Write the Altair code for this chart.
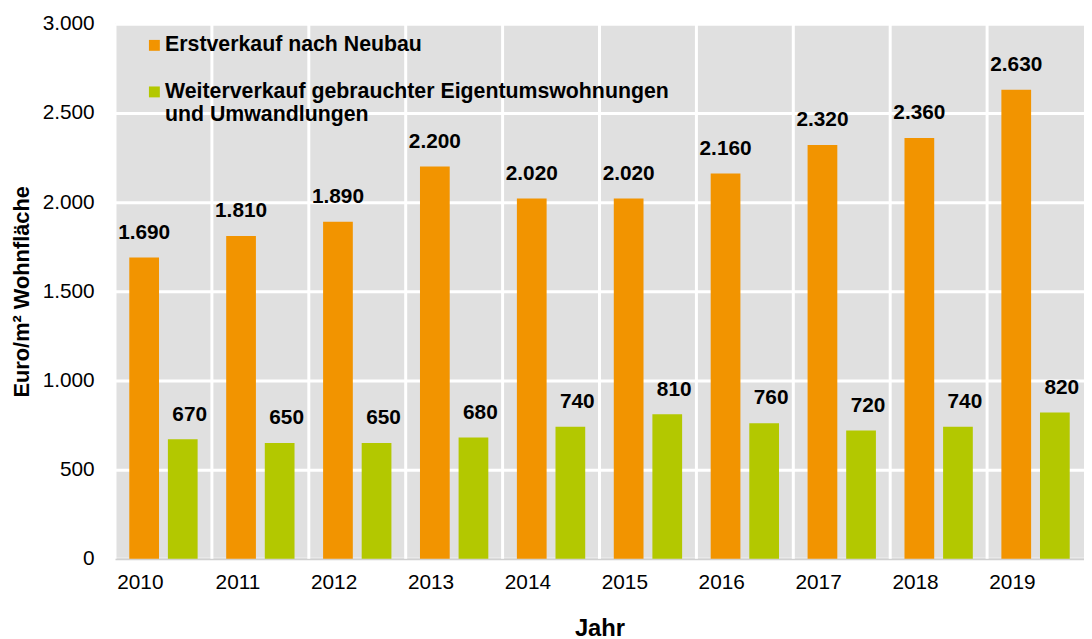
import altair as alt
import pandas as pd

years = ["2010", "2011", "2012", "2013", "2014", "2015", "2016", "2017", "2018", "2019"]
erstverkauf = [1690, 1810, 1890, 2200, 2020, 2020, 2160, 2320, 2360, 2630]
weiterverkauf = [670, 650, 650, 680, 740, 810, 760, 720, 740, 820]

S1 = "Erstverkauf nach Neubau"
S2 = "Weiterverkauf gebrauchter Eigentumswohnungen und Umwandlungen"
series = [S1, S2]
colors = ["#F29400", "#B3C800"]

rows = []
for i, y in enumerate(years):
    rows.append({"Jahr": y, "Serie": S1, "Wert": erstverkauf[i]})
    rows.append({"Jahr": y, "Serie": S2, "Wert": weiterverkauf[i]})
df = pd.DataFrame(rows)

FONT = "Liberation Sans"

x_enc = alt.X("Jahr:N", sort=years, scale=alt.Scale(paddingInner=0, paddingOuter=0),
              axis=alt.Axis(title="Jahr", labelAngle=0, labelFontSize=21, labelPadding=24,
                            ticks=False, domainColor="#D0D0D0", domainWidth=2,
                            titleFontSize=24, titleFontWeight="bold", titlePadding=24,
                            grid=False))
xoff = alt.XOffset("Serie:N", sort=series,
                   scale=alt.Scale(domain=series, paddingInner=0.23, paddingOuter=0.37))
y_enc = alt.Y("Wert:Q", scale=alt.Scale(domain=[0, 3000]),
              axis=alt.Axis(title="Euro/m² Wohnfläche", values=[0, 500, 1000, 1500, 2000, 2500, 3000],
                            labelExpr="replace(format(datum.value, ','), ',', '.')",
                            labelFontSize=21, labelPadding=21, ticks=False, domain=False,
                            gridColor="white", gridWidth=3, gridOpacity=1,
                            titleFontSize=22, titleFontWeight="bold", titlePadding=9))

base = alt.Chart(df)

vgrid = alt.Chart(pd.DataFrame({"Jahr": years})).mark_rule(color="white", strokeWidth=3).encode(
    x=alt.X("Jahr:N", sort=years, bandPosition=0)
)

bars = base.mark_bar().encode(
    x=x_enc,
    xOffset=xoff,
    y=y_enc,
    color=alt.Color("Serie:N", sort=series,
                    scale=alt.Scale(domain=series, range=colors),
                    legend=alt.Legend(title=None, orient="none", legendX=29, legendY=11,
                                      symbolType="square", symbolSize=121, symbolStrokeWidth=0,
                                      labelFontSize=21.5, labelFontWeight="bold", labelLimit=800,
                                      labelOffset=0, rowPadding=24,
                                      labelExpr="datum.label == '" + S2 + "' ? ['Weiterverkauf gebrauchter Eigentumswohnungen', 'und Umwandlungen'] : datum.label")),
)

def labels(name, dx):
    return base.transform_filter(alt.datum.Serie == name).transform_calculate(
        lab="replace(format(datum.Wert, ','), ',', '.')"
    ).mark_text(baseline="bottom", dy=-15, dx=dx, fontSize=21, fontWeight="bold", color="black").encode(
        x=alt.X("Jahr:N", sort=years),
        xOffset=xoff,
        y="Wert:Q",
        text="lab:N",
    )

chart = alt.layer(vgrid, bars, labels(S1, 0), labels(S2, 7)).properties(
    width=978, height=540,
    padding={"left": 2, "top": 2, "right": 0, "bottom": 0},
).configure(font=FONT).configure_view(fill="#E0E0E0", stroke=None)

chart.save("out.html", embed_options={"renderer": "svg", "actions": False})
